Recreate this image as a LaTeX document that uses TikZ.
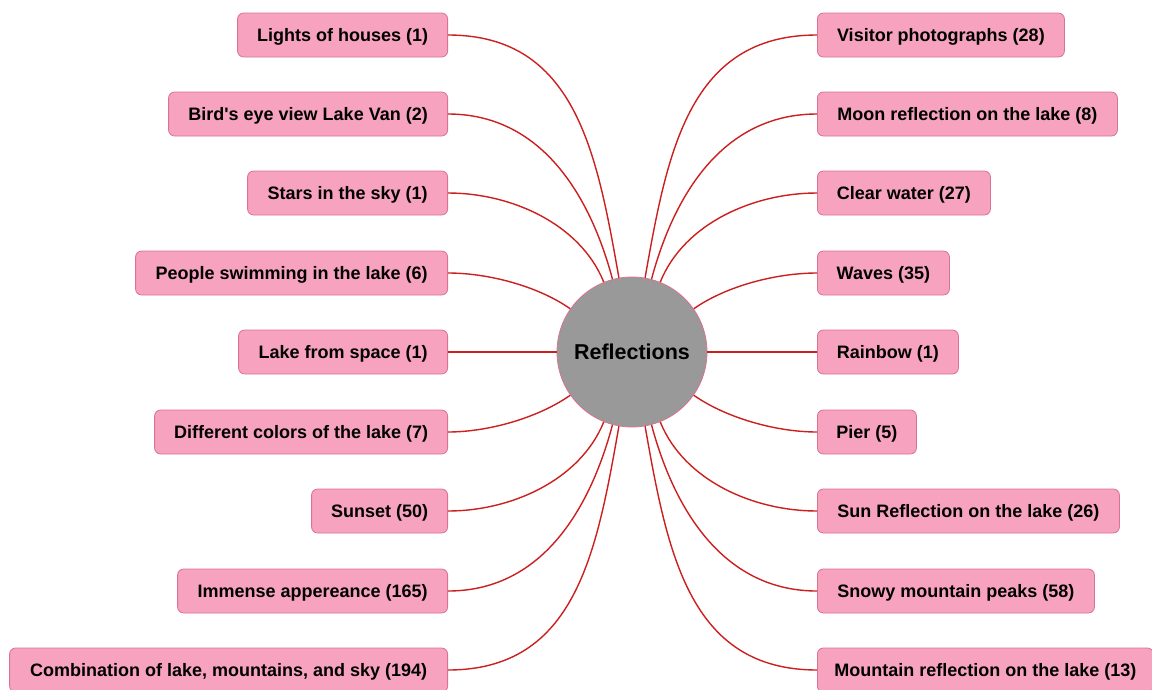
\documentclass[tikz,border=0pt]{standalone}
\usepackage{fontspec}
\setmainfont{Liberation Sans}
\definecolor{boxfill}{HTML}{F7A3BF}
\definecolor{boxline}{HTML}{D9738F}
\definecolor{linkred}{HTML}{CC1F1F}
\definecolor{hubfill}{HTML}{999999}
\tikzset{
  topic/.style={draw=boxline, line width=0.8pt, fill=boxfill, rounded corners=6pt,
    minimum height=44pt, inner sep=0pt, align=center, text height=13pt, text depth=0pt,
    font=\bfseries\fontsize{18}{21}\selectfont},
  ltopic/.style={topic, anchor=east, minimum width=#1},
  rtopic/.style={topic, anchor=west, minimum width=#1},
  hub/.style={circle, draw=boxline, line width=0.8pt, fill=hubfill, minimum size=150pt,
    inner sep=0pt, text height=15.5pt, text depth=0pt,
    font=\bfseries\fontsize{21.5}{24}\selectfont},
  link/.style={draw=linkred, line width=1.4pt},
}
\begin{document}
\begin{tikzpicture}[x=1pt,y=-1pt]
\useasboundingbox (0,0) rectangle (1152,689);
\fill[white] (0,0) rectangle (1152,689);

\node[hub] (c) at (632,352) {Reflections};

% left-hand topics
\node[ltopic=210pt] (l1) at (448,35)  {Lights of houses (1)};
\node[ltopic=279pt] (l2) at (448,114) {Bird\textquotesingle s eye view Lake Van (2)};
\node[ltopic=200pt] (l3) at (448,193) {Stars in the sky (1)};
\node[ltopic=312pt] (l4) at (448,273) {People swimming in the lake (6)};
\node[ltopic=209pt] (l5) at (448,352) {Lake from space (1)};
\node[ltopic=293pt] (l6) at (448,432) {Different colors of the lake (7)};
\node[ltopic=136pt] (l7) at (448,511) {Sunset (50)};
\node[ltopic=270pt] (l8) at (448,591) {Immense appereance (165)};
\node[ltopic=438pt] (l9) at (448,670) {Combination of lake, mountains, and sky (194)};

% right-hand topics
\node[rtopic=247pt] (r1) at (817,35)  {Visitor photographs (28)};
\node[rtopic=300pt] (r2) at (817,114) {Moon reflection on the lake (8)};
\node[rtopic=173pt] (r3) at (817,193) {Clear water (27)};
\node[rtopic=132pt] (r4) at (817,273) {Waves (35)};
\node[rtopic=141pt] (r5) at (817,352) {Rainbow (1)};
\node[rtopic=99pt]  (r6) at (817,432) {Pier (5)};
\node[rtopic=302pt] (r7) at (817,511) {Sun Reflection on the lake (26)};
\node[rtopic=277pt] (r8) at (817,591) {Snowy mountain peaks (58)};
\node[rtopic=336pt] (r9) at (817,670) {Mountain reflection on the lake (13)};

% connectors
\path[link] (l1.east) to[out=0,in=100,looseness=1.1] (c.100);
\path[link] (l2.east) to[out=0,in=105,looseness=1.0] (c.105);
\path[link] (l3.east) to[out=0,in=112,looseness=0.9] (c.112);
\path[link] (l4.east) to[out=0,in=145,looseness=0.8] (c.145);
\path[link] (l5.east) -- (c.180);
\path[link] (l6.east) to[out=0,in=215,looseness=0.8] (c.215);
\path[link] (l7.east) to[out=0,in=248,looseness=0.9] (c.248);
\path[link] (l8.east) to[out=0,in=255,looseness=1.0] (c.255);
\path[link] (l9.east) to[out=0,in=260,looseness=1.1] (c.260);

\path[link] (r1.west) to[out=180,in=80,looseness=1.1] (c.80);
\path[link] (r2.west) to[out=180,in=75,looseness=1.0] (c.75);
\path[link] (r3.west) to[out=180,in=68,looseness=0.9] (c.68);
\path[link] (r4.west) to[out=180,in=35,looseness=0.8] (c.35);
\path[link] (r5.west) -- (c.0);
\path[link] (r6.west) to[out=180,in=-35,looseness=0.8] (c.-35);
\path[link] (r7.west) to[out=180,in=-68,looseness=0.9] (c.-68);
\path[link] (r8.west) to[out=180,in=-75,looseness=1.0] (c.-75);
\path[link] (r9.west) to[out=180,in=-80,looseness=1.1] (c.-80);
\end{tikzpicture}
\end{document}
